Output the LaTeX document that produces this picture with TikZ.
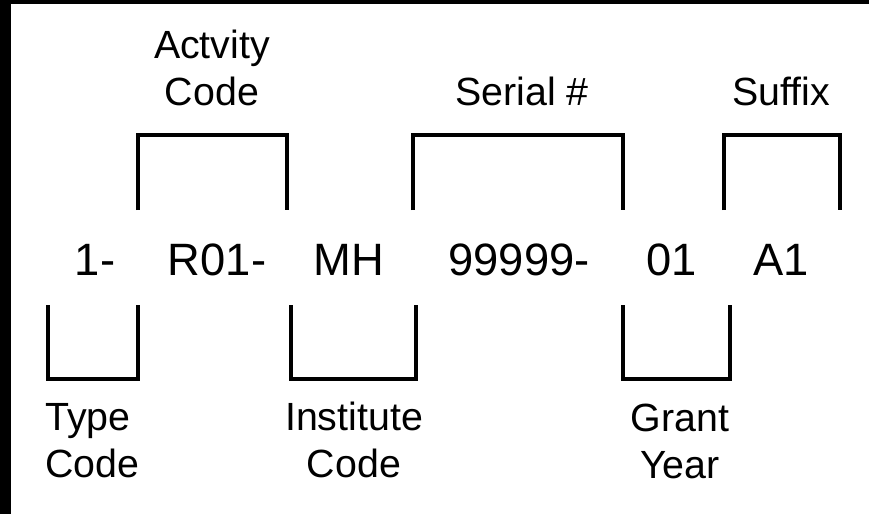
\documentclass[tikz,border=0pt]{standalone}
\usepackage{fontspec}
\setmainfont{Liberation Sans}
\usetikzlibrary{positioning}

\begin{document}
\begin{tikzpicture}[x=0.75pt,y=-0.75pt,
	brk/.style={line width=3pt},
	part/.style={font=\fontsize{34}{40}\selectfont, anchor=base, inner sep=0pt},
	lbl/.style={font=\fontsize{29.5}{35}\selectfont, align=center, anchor=base, inner sep=0pt}]
		\useasboundingbox (0,0) rectangle (869,514);
		\fill[black] (0,0) rectangle (869,514);
		\fill[white] (11,4) rectangle (869,514);

		%coordinates
		\coordinate (ACl) at (138,210);
		\coordinate (ACr) at (287,210);
		\coordinate (SNl) at (413,210);
		\coordinate (SNr) at (623,210);
		\coordinate (SXl) at (724,210);
		\coordinate (SXr) at (840,210);

		\coordinate (TCl) at (48,305);
		\coordinate (TCr) at (138,305);
		\coordinate (ICl) at (291,305);
		\coordinate (ICr) at (416,305);
		\coordinate (GYl) at (623,305);
		\coordinate (GYr) at (730,305);

		%nodes
		\node[part] (tc) at (95,275)  {1-};
		\node[part] (ac) at (217,275) {R01-};
		\node[part] (ic) at (349,275) {MH};
		\node[part] (sn) at (519,275) {99999-};
		\node[part] (gy) at (672,275) {01};
		\node[part] (sx) at (781,275) {A1};

		% base = last line
		\node[lbl] (acL) at (212,105) {Actvity\\Code};
		\node[lbl] (snL) at (522,105) {Serial \#};
		\node[lbl] (sxL) at (781,105) {Suffix};
		\node[lbl, align=left, anchor=base west] (tcL) at (45,477) {Type\\Code};
		\node[lbl] (icL) at (354,477) {Institute\\Code};
		\node[lbl] (gyL) at (680,478) {Grant\\Year};

		%brackets
		\draw[brk] (ACl) -- ++(0,-75) -| (ACr);
		\draw[brk] (SNl) -- ++(0,-75) -| (SNr);
		\draw[brk] (SXl) -- ++(0,-75) -| (SXr);

		\draw[brk] (TCl) -- ++(0,74) -| (TCr);
		\draw[brk] (ICl) -- ++(0,74) -| (ICr);
		\draw[brk] (GYl) -- ++(0,74) -| (GYr);
\end{tikzpicture}
\end{document}
